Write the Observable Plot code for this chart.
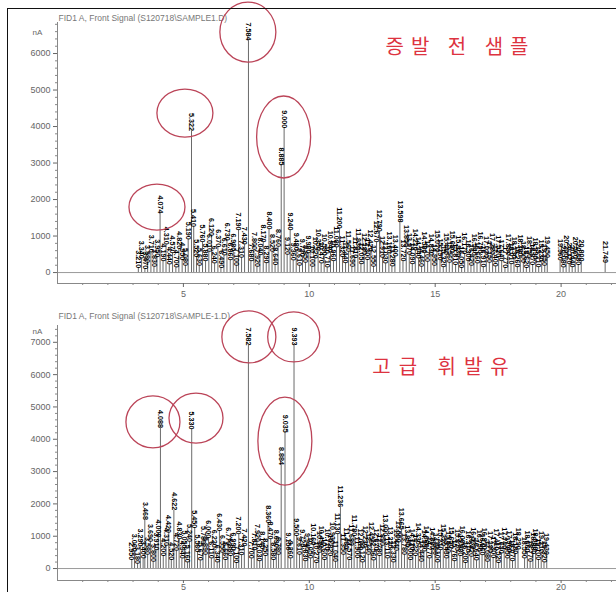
<!DOCTYPE html>
<html><head><meta charset="utf-8">
<script src="https://cdn.jsdelivr.net/npm/d3@7"></script>
<script src="https://cdn.jsdelivr.net/npm/@observablehq/plot@0.6"></script>
<style>
body{margin:0;background:#fff;width:616px;height:592px;overflow:hidden;position:relative;font-family:"Liberation Sans",Arial,sans-serif}
#frame{position:absolute;left:7px;top:8px;width:640px;height:620px;border:1.5px solid #111;box-sizing:border-box;pointer-events:none;z-index:5}
#top{position:absolute;left:0;top:0}
#bot{position:absolute;left:0;top:300px}
</style></head>
<body>
<div id="top"></div><div id="bot"></div><div id="frame"></div>
<script>
// ---- data ----
const titleTop = "FID1 A, Front Signal (S120718\\SAMPLE1.D)";
const titleBot = "FID1 A, Front Signal (S120718\\SAMPLE-1.D)";
const labelTop = "증발 전 샘플";
const labelBot = "고급 휘발유";
const xTicks = [5, 10, 15, 20];
const xMinor = [1,2,3,4,6,7,8,9,11,12,13,14,16,17,18,19,21,22];
const yTicksTop = [0, 1000, 2000, 3000, 4000, 5000, 6000];
const yTicksBot = [0, 1000, 2000, 3000, 4000, 5000, 6000, 7000];
const yUnit = "nA";

// top chromatogram peaks: retention time (min), height
const topTimes = [3.21,3.34,3.47,3.58,3.71,3.83,3.95,4.074,4.19,4.31,4.44,4.57,4.70,4.82,4.95,5.08,5.19,5.322,5.41,5.52,5.63,5.76,5.88,6.01,6.12,6.24,6.37,6.49,6.61,6.73,6.86,6.98,7.10,7.19,7.31,7.43,7.584,7.68,7.80,7.92,8.04,8.17,8.29,8.40,8.52,8.64,8.76,8.885,9.000,9.12,9.24,9.36,9.48,9.61,9.73,9.85,9.98,10.10,10.22,10.35,10.47,10.59,10.71,10.84,10.96,11.08,11.20,11.32,11.44,11.56,11.69,11.81,11.93,12.05,12.18,12.30,12.42,12.55,12.67,12.79,12.91,13.03,13.16,13.28,13.40,13.598,13.72,13.85,13.97,14.09,14.21,14.34,14.46,14.58,14.70,14.83,14.95,15.07,15.19,15.32,15.44,15.56,15.68,15.81,15.93,16.05,16.17,16.30,16.42,16.54,16.66,16.79,16.91,17.03,17.15,17.28,17.40,17.52,17.64,17.77,17.89,18.01,18.13,18.26,18.38,18.50,18.62,18.75,18.87,18.99,19.11,19.23,19.35,19.45,19.96,20.08,20.20,20.32,20.44,20.56,20.68,20.80,21.749];
const topHeights = [120,380,90,260,540,150,420,1616,300,760,210,520,130,640,340,180,900,3880,1250,420,180,820,300,560,1000,240,690,120,460,870,330,580,180,1150,400,760,6356,300,620,150,470,820,250,1180,560,200,700,2930,3950,480,1150,320,600,180,430,260,520,150,380,600,240,460,130,540,300,680,1200,420,250,560,150,390,620,220,480,340,580,150,820,1120,400,240,520,160,430,1370,300,700,480,220,600,380,150,520,290,460,180,560,330,140,480,260,540,200,420,120,500,300,180,460,240,520,140,400,260,480,160,420,300,120,460,220,380,140,440,260,120,400,200,360,140,300,180,400,320,130,420,220,140,380,200,300,260];

// bottom chromatogram peaks
const botTimes = [2.95,3.06,3.18,3.29,3.40,3.468,3.58,3.69,3.80,3.91,4.00,4.088,4.20,4.31,4.42,4.52,4.622,4.72,4.83,4.94,5.05,5.16,5.24,5.330,5.45,5.56,5.67,5.78,5.89,6.00,6.11,6.22,6.34,6.43,6.55,6.66,6.77,6.88,6.99,7.10,7.20,7.31,7.42,7.582,7.70,7.81,7.92,8.03,8.14,8.25,8.36,8.47,8.58,8.69,8.78,8.884,9.035,9.15,9.26,9.393,9.50,9.61,9.72,9.83,9.94,10.05,10.16,10.27,10.38,10.49,10.60,10.71,10.82,10.93,11.04,11.13,11.236,11.35,11.46,11.57,11.68,11.78,11.90,12.01,12.12,12.23,12.34,12.45,12.56,12.67,12.78,12.89,13.00,13.11,13.22,13.33,13.44,13.55,13.665,13.78,13.89,14.00,14.11,14.22,14.33,14.44,14.55,14.66,14.77,14.88,14.99,15.10,15.21,15.32,15.43,15.54,15.65,15.76,15.87,15.98,16.09,16.20,16.31,16.42,16.53,16.64,16.75,16.86,16.97,17.08,17.19,17.30,17.41,17.52,17.63,17.74,17.85,17.96,18.07,18.18,18.29,18.55,18.66,18.77,18.88,18.99,19.10,19.21,19.32,19.43];
const botHeights = [260,520,140,680,300,1500,420,820,200,560,960,4350,380,700,1100,260,1800,540,900,300,620,180,820,4300,1250,500,240,760,420,940,300,640,180,1150,480,260,720,380,560,160,1050,400,680,6900,300,560,820,220,600,380,1400,900,260,640,420,3200,4200,560,300,6900,1000,420,660,220,540,300,720,160,480,640,260,560,380,760,200,1050,1900,420,600,260,700,1000,320,560,180,640,420,760,240,560,380,700,1000,300,620,180,540,800,1200,420,660,260,560,380,740,200,520,640,300,600,420,180,560,700,300,480,620,220,540,380,640,160,500,360,600,240,520,400,580,200,480,320,560,160,460,600,300,500,220,440,580,300,500,200,440,560,260,480,180,420];

// circled peaks (annotation centres in data units)
const circTopT = [7.58, 5.08, 9.0, 3.97];
const circTopV = [6575, 4356, 3700, 1780];
const circBotT = [7.62, 9.40, 3.81, 5.52, 9.05];
const circBotV = [7150, 7150, 4520, 4640, 3930];

// ---- drawing ----
const fmt = d3.format(".3f");
const topData = topTimes.map((t, i) => ({t, h: topHeights[i]}));
const botData = botTimes.map((t, i) => ({t, h: botHeights[i]}));
const circTop = circTopT.map((t, i) => ({t, v: circTopV[i]}));
const circBot = circBotT.map((t, i) => ({t, v: circBotV[i]}));
const radTop = [[28,30],[28,24],[27,41],[28,23]];
const radBot = [[27,26],[26,25],[27,26],[27,25],[27,44]];

function ellipses(list, radii) {
  return (index, {x, y}) => {
    const g = d3.create("svg:g").attr("fill", "none").attr("stroke", "#bb4458").attr("stroke-width", 1.3);
    list.forEach((e, i) => {
      g.append("ellipse").attr("cx", x(e.t)).attr("cy", y(e.v)).attr("rx", radii[i][0]).attr("ry", radii[i][1]);
    });
    return g.node();
  };
}

function panel({data, circ, radii, yDomain, yTicks, height, mTop, mBottom, xTickSize, xPad, unitDy, title, titleDy, label, labelDx, labelDy, spacing}) {
  const yMinor = [];
  for (let v = 200; v < yDomain[1]; v += 200) if (v % 1000) yMinor.push(v);
  const svg = Plot.plot({
    width: 616, height, marginLeft: 57, marginRight: 0, marginTop: mTop, marginBottom: mBottom,
    style: {background: "transparent", fontFamily: "Liberation Sans, Arial, sans-serif"},
    x: {domain: [0, 22.2], axis: null},
    y: {domain: yDomain, axis: null},
    marks: [
      Plot.ruleY([0], {stroke: "#9a9a9a", strokeWidth: 1}),
      Plot.ruleX(data, {x: "t", y1: 0, y2: "h", stroke: "#444", strokeWidth: 0.8}),
      Plot.text(data, {x: "t", y: "h", text: d => fmt(d.t), rotate: 90, textAnchor: "end", lineAnchor: "middle", fontSize: 7.2, fontWeight: 600, fill: "#000"}),
      Plot.frame({anchor: "left", stroke: "#888"}),
      Plot.frame({anchor: "bottom", stroke: "#888"}),
      Plot.axisY({ticks: yTicks, tickFormat: d3.format("d"), tickSize: 4, tickPadding: 3, fontSize: 9, color: "#666", label: null}),
      Plot.axisY({ticks: yMinor, tickSize: 2, text: null, color: "#888", label: null}),
      Plot.axisX({ticks: xTicks, tickSize: xTickSize, tickPadding: xPad, fontSize: 9, color: "#666", label: null}),
      Plot.axisX({ticks: xMinor, tickSize: 2, text: null, color: "#888", label: null}),
      Plot.text([yUnit], {frameAnchor: "top-left", dx: -20, dy: unitDy, fontSize: 8, fill: "#666", textAnchor: "middle"}),
      Plot.text([title], {frameAnchor: "top-left", dx: 1, dy: titleDy, fontSize: 8.5, fill: "#777", textAnchor: "start"}),
      Plot.text([label], {frameAnchor: "top-left", dx: labelDx, dy: labelDy, fontSize: 20, fill: "#dd3340", textAnchor: "middle", fontFamily: "Noto Sans CJK KR"}),
      ellipses(circ, radii)
    ]
  });
  svg.querySelectorAll("text").forEach(t => {
    if (t.textContent === label) t.setAttribute("letter-spacing", spacing);
  });
  return svg;
}

document.getElementById("top").append(panel({
  data: topData, circ: circTop, radii: radTop, yDomain: [-300, 6850], yTicks: yTicksTop,
  height: 300, mTop: 22, mBottom: 17, xTickSize: 4, xPad: 3, unitDy: 7, title: titleTop, titleDy: -8,
  label: labelTop, labelDx: 403, labelDy: 17, spacing: "7px"
}));
document.getElementById("bot").append(panel({
  data: botData, circ: circBot, radii: radBot, yDomain: [-370, 7520], yTicks: yTicksBot,
  height: 292, mTop: 25, mBottom: 12, xTickSize: 3, xPad: 0, unitDy: 3, title: titleBot, titleDy: -13,
  label: labelBot, labelDx: 387, labelDy: 34, spacing: "8px"
}));
</script>
</body></html>
